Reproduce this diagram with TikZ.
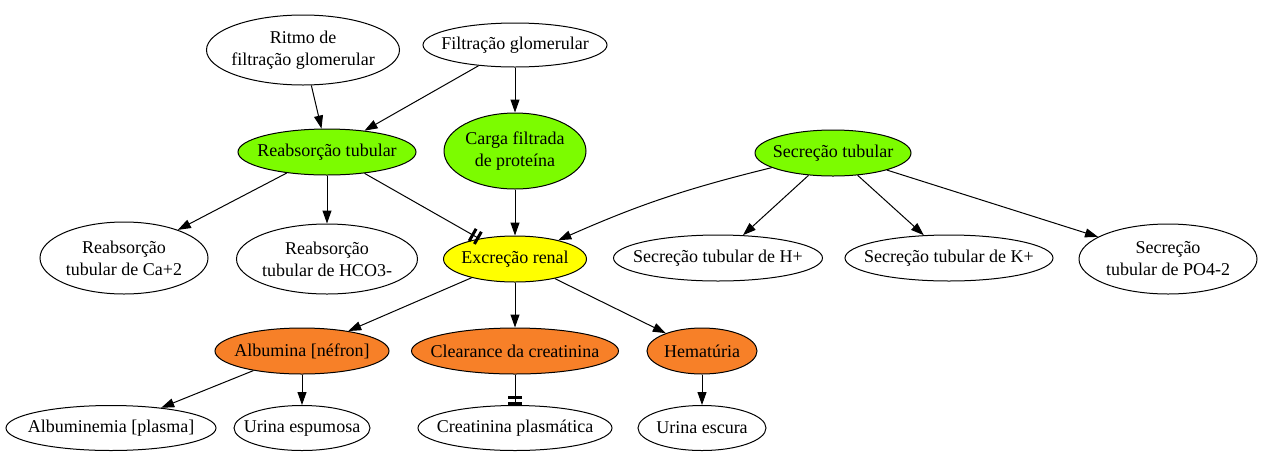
\documentclass[tikz,border=0pt]{standalone}
\usepackage{fontspec}
\setmainfont{Liberation Serif}
\usetikzlibrary{shapes.geometric,arrows.meta}
\definecolor{procgreen}{RGB}{124,252,0}
\definecolor{excryellow}{RGB}{255,255,0}
\definecolor{signorange}{RGB}{247,128,40}
\tikzset{
  concept/.style={ellipse,draw,line width=1pt,inner xsep=-25pt,inner ysep=0pt,
    align=center,font=\fontsize{18}{22}\selectfont},
  process/.style={concept,fill=procgreen},
  excretion/.style={concept,fill=excryellow},
  sign/.style={concept,fill=signorange},
  size/.style 2 args={minimum width=#1pt,minimum height=#2pt},
  tee/.style={-{Bar[width=14pt,line width=3pt,sep=3pt]Bar[width=14pt,line width=3pt]}}
}
\begin{document}
\begin{tikzpicture}[x=1pt,y=-1pt]
      \useasboundingbox (0,0) rectangle (1261,456);
      \draw
        (303,50) node[concept,size={193}{70}] (rfg){Ritmo de\\filtração glomerular}
        (515,45) node[concept,size={184}{44}] (fg){Filtração glomerular}
        (327,152) node[process,size={178}{46}] (rt){Reabsorção tubular}
        (515,151) node[process,size={142}{76}] (cfp){Carga filtrada\\de proteína}
        (833,153) node[process,size={156}{46}] (st){Secreção tubular}
        (124,258) node[concept,size={168}{72}] (rtca){Reabsorção\\tubular de Ca+2}
        (327,259) node[concept,size={181}{70}] (rthco){Reabsorção\\tubular de HCO3-}
        (515,259) node[excretion,size={143}{46}] (er){Excreção renal}
        (718,258) node[concept,size={209}{46}] (sth){Secreção tubular de H+}
        (949,258) node[concept,size={208}{46}] (stk){Secreção tubular de K+}
        (1168,259) node[concept,size={178}{70}] (stpo){Secreção\\tubular de PO4-2}
        (302,351) node[sign,size={174}{46}] (alb){Albumina [néfron]}
        (515,351) node[sign,size={207}{46}] (cc){Clearance da creatinina}
        (702,351) node[sign,size={110}{46}] (hem){Hematúria}
        (111,428) node[concept,size={210}{45}] (albp){Albuminemia [plasma]}
        (302,428) node[concept,size={136}{45}] (ues){Urina espumosa}
        (515,428) node[concept,size={194}{45}] (crp){Creatinina plasmática}
        (702,428) node[concept,size={128}{45}] (uec){Urina escura};
      \begin{scope}[-{Triangle[length=13pt,width=9pt]},line width=1pt]
        \draw (rfg) to (rt);
        \draw (fg) to (rt);
        \draw (fg) to (cfp);
        \draw (rt) to (rtca);
        \draw (rt) to (rthco);
        \draw[tee] (rt) to (er);
        \draw (cfp) to (er);
        \draw (st) to[bend right=5] (er);
        \draw (st) to (sth);
        \draw (st) to (stk);
        \draw (st) to (stpo);
        \draw (er) to (alb);
        \draw (er) to (cc);
        \draw (er) to (hem);
        \draw (alb) to (albp);
        \draw (alb) to (ues);
        \draw[tee] (cc) to (crp);
        \draw (hem) to (uec);
      \end{scope}
    \end{tikzpicture}
\end{document}
